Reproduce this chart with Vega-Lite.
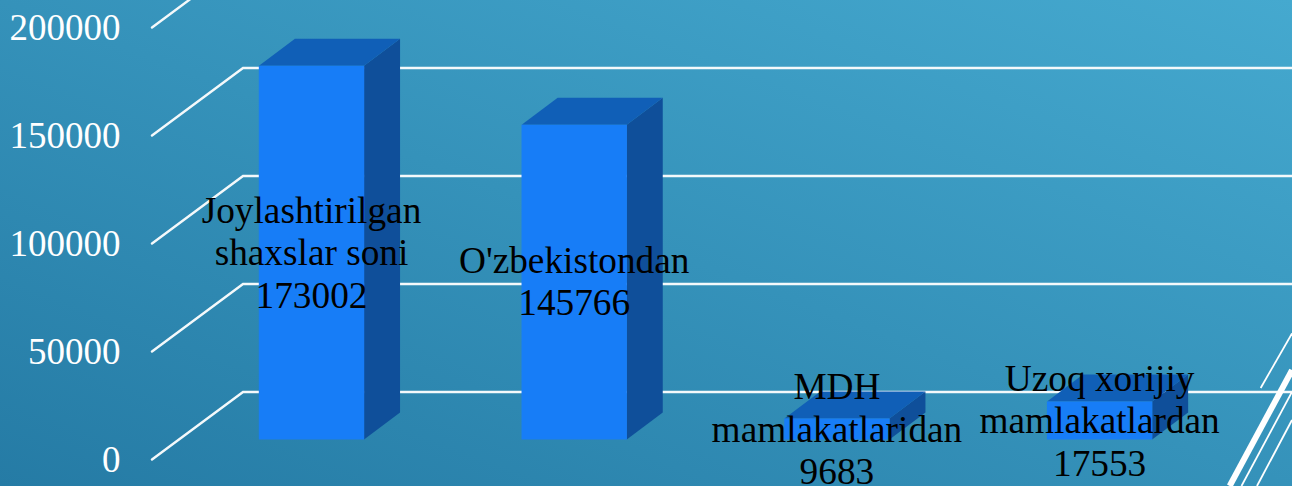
{
"$schema":"https://vega.github.io/schema/vega-lite/v6.json",
"width":1292,"height":486,"padding":0,"autosize":{"type":"none"},
"background":"#3592BA",
"view":{"stroke":null,"fill":{"gradient":"linear","x1":0,"y1":1,"x2":1,"y2":0,"stops":[{"offset":0,"color":"#257BA5"},{"offset":1,"color":"#45A9CF"}]}},
"config":{"font":"Liberation Serif"},
"datasets":{
"grid":[
{"level":0,"x":0.3928,"y":0},{"level":0,"x":0.7393,"y":31250},{"level":0,"x":4.7323,"y":31250},
{"level":50000,"x":0.3928,"y":50000},{"level":50000,"x":0.7393,"y":81250},{"level":50000,"x":4.7323,"y":81250},
{"level":100000,"x":0.3928,"y":100000},{"level":100000,"x":0.7393,"y":131250},{"level":100000,"x":4.7323,"y":131250},
{"level":150000,"x":0.3928,"y":150000},{"level":150000,"x":0.7393,"y":181250},{"level":150000,"x":4.7323,"y":181250},
{"level":200000,"x":0.3928,"y":200000},{"level":200000,"x":0.7393,"y":231250},{"level":200000,"x":4.7323,"y":231250}
],
"deco":[
{"line":"a","w":1.8,"x":4.6130,"y":33100},{"line":"a","w":1.8,"x":4.7323,"y":58400},
{"line":"b","w":6,"x":4.4950,"y":-12270},{"line":"b","w":6,"x":4.7323,"y":41400},
{"line":"c","w":1.8,"x":4.5400,"y":-12270},{"line":"c","w":1.8,"x":4.7323,"y":31300},
{"line":"d","w":1.8,"x":4.5990,"y":-12270},{"line":"d","w":1.8,"x":4.7323,"y":18300}
],
"bars":[
{"name":"Joylashtirilgan\nshaxslar soni\n173002","pos":1,"value":173002,"labelY":114800},
{"name":"O'zbekistondan\n145766","pos":2,"value":145766,"labelY":91600},
{"name":"MDH\nmamlakatlaridan\n9683","pos":3,"value":9683,"labelY":33000},
{"name":"Uzoq xorijiy\nmamlakatlardan\n17553","pos":4,"value":17553,"labelY":36900}
],
"side":[
{"pos":1,"x":1.2,"y":173002,"y2":0},{"pos":1,"x":1.337,"y":185502,"y2":12500},
{"pos":2,"x":2.2,"y":145766,"y2":0},{"pos":2,"x":2.337,"y":158266,"y2":12500},
{"pos":3,"x":3.2,"y":9683,"y2":0},{"pos":3,"x":3.337,"y":22183,"y2":12500},
{"pos":4,"x":4.2,"y":17553,"y2":0},{"pos":4,"x":4.337,"y":30053,"y2":12500}
],
"top":[
{"pos":1,"y":173002,"x":0.8,"x2":1.2},{"pos":1,"y":185502,"x":0.937,"x2":1.337},
{"pos":2,"y":145766,"x":1.8,"x2":2.2},{"pos":2,"y":158266,"x":1.937,"x2":2.337},
{"pos":3,"y":9683,"x":2.8,"x2":3.2},{"pos":3,"y":22183,"x":2.937,"x2":3.337},
{"pos":4,"y":17553,"x":3.8,"x2":4.2},{"pos":4,"y":30053,"x":3.937,"x2":4.337}
]
},
"resolve":{"scale":{"y":"independent","strokeWidth":"independent"}},
"layer":[
{"data":{"name":"grid"},
 "mark":{"type":"line","color":"#F4F9FB","strokeWidth":2.4,"clip":true,"strokeCap":"round"},
 "encoding":{
  "x":{"field":"x","type":"quantitative","scale":{"domain":[-0.1858,4.7323],"nice":false,"zero":false,"padding":0},"axis":null},
  "y":{"field":"y","type":"quantitative","scale":{"domain":[-12269,212731],"nice":false,"zero":false},
   "axis":{"title":null,"values":[0,50000,100000,150000,200000],"format":"d","domain":false,"ticks":false,"grid":false,"labelColor":"#FFFFFF","labelFont":"Liberation Serif","labelFontSize":37,"labelPadding":-120,"labelOffset":1,"labelFlush":false,"labelOverlap":false,"labelBound":false,"zindex":1}},
  "detail":{"field":"level"}}},
{"data":{"name":"deco"},
 "mark":{"type":"line","color":"#FFFFFF","clip":true},
 "encoding":{
  "x":{"field":"x","type":"quantitative","scale":{"domain":[-0.1858,4.7323],"nice":false,"zero":false,"padding":0},"axis":null},
  "y":{"field":"y","type":"quantitative","scale":{"domain":[-12269,212731],"nice":false,"zero":false},"axis":null},
  "strokeWidth":{"field":"w","type":"quantitative","scale":null,"legend":null},
  "detail":{"field":"line"}}},
{"data":{"name":"side"},
 "mark":{"type":"area","color":"#0F4F9A","orient":"vertical","opacity":1},
 "encoding":{
  "x":{"field":"x","type":"quantitative","scale":{"domain":[-0.1858,4.7323],"nice":false,"zero":false,"padding":0},"axis":null},
  "y":{"field":"y","type":"quantitative","stack":false,"scale":{"domain":[-21528,203472],"nice":false,"zero":false},"axis":null},
  "y2":{"field":"y2"},
  "detail":{"field":"pos"}}},
{"data":{"name":"top"},
 "mark":{"type":"area","color":"#105FB7","orient":"horizontal","opacity":1},
 "encoding":{
  "y":{"field":"y","type":"quantitative","scale":{"domain":[-21528,203472],"nice":false,"zero":false},"axis":null},
  "x":{"field":"x","type":"quantitative","stack":false,"scale":{"domain":[-0.1858,4.7323],"nice":false,"zero":false,"padding":0},"axis":null},
  "x2":{"field":"x2"},
  "detail":{"field":"pos"}}},
{"data":{"name":"bars"},
 "mark":{"type":"bar","color":"#177DF7","size":105.4},
 "encoding":{
  "x":{"field":"pos","type":"quantitative","scale":{"domain":[-0.1858,4.7323],"nice":false,"zero":false,"padding":0},"axis":null},
  "y":{"field":"value","type":"quantitative","scale":{"domain":[-21528,203472],"nice":false,"zero":false},"axis":null}}},
{"data":{"name":"bars"},
 "mark":{"type":"text","color":"#000000","font":"Liberation Serif","fontSize":37.3,"lineHeight":42.5,"lineBreak":"\n","align":"center","baseline":"middle"},
 "encoding":{
  "x":{"field":"pos","type":"quantitative","scale":{"domain":[-0.1858,4.7323],"nice":false,"zero":false,"padding":0},"axis":null},
  "y":{"field":"labelY","type":"quantitative","scale":{"domain":[-12269,212731],"nice":false,"zero":false},"axis":null},
  "text":{"field":"name"}}}
]
}
